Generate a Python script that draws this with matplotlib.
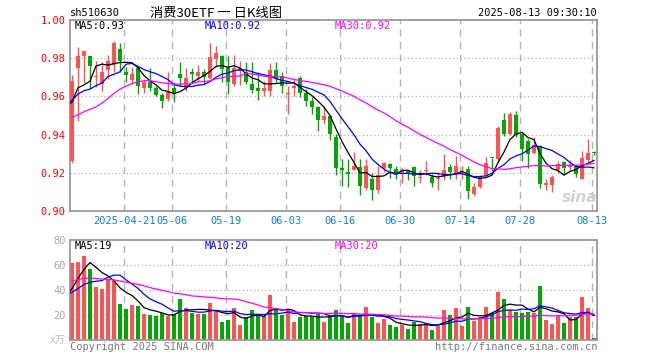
import numpy as np
import pandas as pd
import matplotlib
matplotlib.use('Agg')
import matplotlib.pyplot as plt
import matplotlib.transforms as mtransforms

plt.rcParams['font.family'] = ['DejaVu Sans Mono', 'Noto Sans CJK SC']

# trading days shown (2025-04-08 .. 2025-08-13, exchange holidays removed)
holidays = ['2025-05-01', '2025-05-02', '2025-05-05', '2025-06-02']
tick_dates = ['2025-04-21', '2025-05-06', '2025-05-19', '2025-06-03', '2025-06-16',
              '2025-06-30', '2025-07-14', '2025-07-28', '2025-08-13']

# daily OHLC
open_ = [0.926, 0.975, 0.981, 0.981, 0.970, 0.9666, 0.974, 0.9765, 0.985, 0.973,
         0.9687, 0.9747, 0.9645, 0.9677, 0.9645, 0.9607, 0.9586, 0.9642, 0.9719, 0.9642,
         0.9729, 0.9708, 0.9729, 0.9698, 0.9796, 0.9814, 0.9747, 0.9666, 0.9733, 0.9729,
         0.9665, 0.9642, 0.963, 0.963, 0.974, 0.9705, 0.961, 0.9645, 0.9695, 0.962,
         0.9577, 0.9544, 0.9477, 0.9498, 0.9389, 0.9224, 0.9203, 0.9214, 0.9232, 0.9123,
         0.9168, 0.9112, 0.9224, 0.9244, 0.9221, 0.9196, 0.9208, 0.9232, 0.9172, 0.9207,
         0.9179, 0.9165, 0.9179, 0.9232, 0.9195, 0.9205, 0.9221, 0.9091, 0.9126, 0.9186,
         0.928, 0.927, 0.9477, 0.9402, 0.9501, 0.9402, 0.9366, 0.9305, 0.9339, 0.9138,
         0.9138, 0.9214, 0.9256, 0.9232, 0.9235, 0.9168, 0.9266, 0.9305]
high = [0.971, 0.986, 0.984, 0.981, 0.9786, 0.978, 0.9817, 0.9888, 0.988, 0.9753,
        0.9753, 0.976, 0.969, 0.9747, 0.9653, 0.962, 0.9729, 0.9674, 0.9779, 0.9747,
        0.9747, 0.9765, 0.9744, 0.988, 0.9866, 0.9817, 0.9814, 0.9817, 0.9786, 0.9782,
        0.978, 0.9726, 0.9682, 0.9775, 0.9782, 0.9726, 0.9656, 0.969, 0.9708, 0.9638,
        0.9595, 0.955, 0.955, 0.9501, 0.9402, 0.927, 0.927, 0.9308, 0.927, 0.927,
        0.920, 0.9235, 0.9256, 0.9253, 0.9235, 0.9226, 0.9217, 0.9235, 0.9214, 0.9261,
        0.9196, 0.9203, 0.9296, 0.9244, 0.9287, 0.9235, 0.9235, 0.9147, 0.9186, 0.9284,
        0.928, 0.9445, 0.9512, 0.9519, 0.9524, 0.941, 0.9379, 0.9389, 0.9344, 0.9168,
        0.9186, 0.926, 0.926, 0.9265, 0.9245, 0.9312, 0.9379, 0.9314]
low = [0.925, 0.947, 0.967, 0.964, 0.9647, 0.963, 0.969, 0.9726, 0.9726, 0.9674,
       0.9665, 0.9612, 0.962, 0.963, 0.960, 0.9538, 0.9577, 0.9571, 0.9656, 0.963,
       0.9674, 0.9682, 0.9665, 0.969, 0.9753, 0.9674, 0.9612, 0.9656, 0.966, 0.9665,
       0.962, 0.9582, 0.9603, 0.9603, 0.9674, 0.962, 0.9507, 0.9603, 0.9595, 0.955,
       0.9507, 0.9419, 0.9454, 0.9372, 0.9186, 0.9133, 0.9126, 0.9214, 0.9086, 0.9108,
       0.9056, 0.9095, 0.9203, 0.9174, 0.9165, 0.9147, 0.916, 0.9133, 0.9144, 0.9191,
       0.9126, 0.9112, 0.9161, 0.9165, 0.9165, 0.9165, 0.9063, 0.9077, 0.912, 0.9179,
       0.9208, 0.9261, 0.9393, 0.9397, 0.9389, 0.9261, 0.9226, 0.9296, 0.9121, 0.9112,
       0.9098, 0.9198, 0.9196, 0.9214, 0.9179, 0.9165, 0.9256, 0.9291]
close = [0.968, 0.981, 0.984, 0.976, 0.9705, 0.9729, 0.9786, 0.988, 0.9786, 0.971,
         0.9719, 0.9656, 0.9677, 0.9645, 0.9607, 0.9577, 0.9624, 0.962, 0.9698, 0.9695,
         0.9719, 0.9729, 0.9703, 0.9807, 0.9828, 0.9744, 0.9677, 0.9747, 0.9747, 0.9677,
         0.9635, 0.963, 0.9642, 0.974, 0.969, 0.9653, 0.962, 0.9656, 0.962, 0.9577,
         0.9547, 0.9477, 0.9498, 0.9402, 0.9226, 0.9214, 0.9193, 0.9235, 0.9129, 0.9235,
         0.9112, 0.9191, 0.9253, 0.9224, 0.9186, 0.9208, 0.9196, 0.9182, 0.9179, 0.9214,
         0.9144, 0.9172, 0.9214, 0.9203, 0.9235, 0.9212, 0.9103, 0.9126, 0.9179, 0.9253,
         0.9277, 0.9432, 0.9402, 0.9507, 0.9396, 0.9323, 0.9296, 0.9344, 0.9143, 0.9147,
         0.9179, 0.9244, 0.9226, 0.924, 0.9196, 0.9279, 0.9305, 0.9303]
# volume in units of 10k
volume = [61.6, 62.4, 67.2, 56.8, 42.7, 40.8, 48.8, 47.5, 28.8, 24.8,
          28, 27.2, 20.8, 20, 19.2, 21.3, 19.2, 21, 32.8, 25.9,
          21.9, 20.8, 20.8, 29.9, 24, 14.4, 16, 25.6, 12, 18.4,
          24, 20, 19.2, 36, 24, 20, 24, 14.4, 18.4, 19.2,
          19.2, 20.8, 14.4, 19.2, 24, 19.2, 13.9, 21.9, 19.2, 26.7,
          18.1, 13.9, 16.5, 12, 10.7, 12, 9.1, 14.7, 12.8, 13.3,
          8, 11.2, 24, 20, 25.6, 11.2, 26.4, 15.5, 18.1, 26.4,
          21.9, 38.4, 32.8, 24, 22.5, 21.9, 22.7, 21.3, 43.2, 16,
          12.8, 19.2, 13.9, 18.1, 18.1, 34.1, 25.6, 1.6]

# estimated sessions before the window, only so the moving averages start where the chart does
prior_close = [0.940, 0.938, 0.935, 0.9335, 0.915, 0.905, 0.908, 0.911, 0.925, 0.93,
               0.94, 0.949, 0.965, 0.975, 0.9765, 0.973, 0.972, 0.968, 0.966, 0.967,
               0.947, 0.966, 0.968, 0.952, 0.96, 0.9435, 0.9765, 0.966, 0.931]
prior_volume = [40, 36, 48, 55, 52, 60, 58, 55, 54, 55,
                50, 58, 62, 55, 50, 52, 56, 48, 50, 51,
                30, 36, 38, 35, 36, 20.9, 31.2, 29.3, 62]

RED = '#ff5252'
GREEN = '#00a800'
GRID = '#b4b4b4'
FRAME = '#9a9a9a'

dates = pd.bdate_range('2025-04-08', '2025-08-13')
dates = dates[~dates.isin(pd.to_datetime(holidays))]
tick_pos = [dates.get_loc(pd.Timestamp(d)) for d in tick_dates]
tick_lbl = [tick_dates[0]] + [d[5:] for d in tick_dates[1:]]

o = np.array(open_)
h = np.array(high)
l = np.array(low)
c = np.array(close)
v = np.array(volume)
n = len(c)
x = np.arange(n)
cols = np.where(c >= o, RED, GREEN)

c_all = pd.Series(prior_close + close, index=np.arange(-len(prior_close), n))
v_all = pd.Series(prior_volume + volume, index=np.arange(-len(prior_volume), n))
ma_c = {k: c_all.rolling(k).mean() for k in (5, 10, 30)}
ma_v = {k: v_all.rolling(k).mean() for k in (5, 10, 30)}
ma_cols = {5: 'black', 10: '#0000ff', 30: '#ff00ff'}

fig = plt.figure(figsize=(6.6, 3.6), dpi=100)
W, H = 660, 360
ax = fig.add_axes([70 / W, 1 - 211 / H, 527 / W, 191 / H])
axv = fig.add_axes([70 / W, 1 - 340 / H, 527 / W, 100 / H])

for a in (ax, axv):
    a.set_xlim(-0.33, 87.5)
    for s in a.spines.values():
        s.set_color(FRAME)
        s.set_linewidth(1.3)
    a.set_xticks([])
    a.tick_params(axis='y', length=0, pad=3, labelsize=7.5)
    for p in tick_pos:
        a.axvline(p - 0.25, color=GRID, lw=1, ls=(0, (5, 4)), zorder=0)

# price panel
ax.set_ylim(0.90, 1.00)
price_ticks = [0.90, 0.92, 0.94, 0.96, 0.98, 1.00]
ax.set_yticks(price_ticks)
ax.set_yticklabels([f'{t:.2f}' for t in price_ticks], color='red')
for t in price_ticks[1:-1]:
    ax.axhline(t, color=GRID, lw=0.9, ls=(0, (1, 2)), zorder=0)

ax.vlines(x, l, h, colors=cols, lw=1, zorder=2)
ax.bar(x, np.maximum(np.abs(c - o), 0.0004), bottom=np.minimum(o, c),
       width=0.8, color=cols, linewidth=0, zorder=3)
for k in (5, 10, 30):
    m = ma_c[k].loc[-1:]
    ax.plot(m.index, m.values, color=ma_cols[k], lw=0.9, zorder=4)

# date labels under the price panel
trans = mtransforms.blended_transform_factory(ax.transData, ax.transAxes)
for p, s in zip(tick_pos, tick_lbl):
    ax.text(p - 0.25, -10 / 191, s, transform=trans, ha='center', va='center',
            color='#0a80d0', fontsize=7.5)

# volume panel
axv.set_ylim(0, 80)
vol_ticks = [20, 40, 60, 80]
axv.set_yticks(vol_ticks)
axv.set_yticklabels([str(t) for t in vol_ticks], color='#a8a8a8')
for t in vol_ticks[:-1]:
    axv.axhline(t, color=GRID, lw=0.9, ls=(0, (1, 2)), zorder=0)
axv.bar(x, v, width=0.8, color=cols, linewidth=0, zorder=2)
for k in (5, 10, 30):
    m = ma_v[k].loc[-1:]
    axv.plot(m.index, m.values, color=ma_cols[k], lw=0.9, zorder=4)

# header, legends and footer (pixel positions)
def px(xp, yp, s, **kw):
    fig.text(xp / W, 1 - yp / H, s, va='center', **kw)

px(70, 13, 'sh510630', fontsize=7.5, color='black')
px(150, 13, '消费30ETF 一 日K线图', fontsize=9.5, color='black',
   family=['Noto Sans CJK SC', 'DejaVu Sans'])
px(597, 13, '2025-08-13 09:30:10', fontsize=7.5, color='black', ha='right')

px(75, 26, f'MA5:{ma_c[5].iloc[-1]:.2f}', fontsize=7.5, color=ma_cols[5])
px(205, 26, f'MA10:{ma_c[10].iloc[-1]:.2f}', fontsize=7.5, color=ma_cols[10])
px(335, 26, f'MA30:{ma_c[30].iloc[-1]:.2f}', fontsize=7.5, color=ma_cols[30])

px(75, 246, f'MA5:{int(ma_v[5].iloc[-1])}', fontsize=7.5, color=ma_cols[5])
px(205, 246, f'MA10:{int(ma_v[10].iloc[-1])}', fontsize=7.5, color=ma_cols[10])
px(335, 246, f'MA30:{int(ma_v[30].iloc[-1])}', fontsize=7.5, color=ma_cols[30])

# faint watermark in the price panel corner
px(580, 197, 'sina', fontsize=11, color='#d2d2d2', fontweight='bold', style='italic',
   family='DejaVu Sans', ha='center', zorder=1)

px(65, 340, 'x万', fontsize=7, color='#b8b8b8', ha='right',
   family=['DejaVu Sans Mono', 'Noto Sans CJK SC'])
px(70, 347, 'Copyright 2025 SINA.COM', fontsize=7.5, color='#7a7a7a')
px(597, 347, 'http://finance.sina.com.cn', fontsize=7.5, color='#7a7a7a', ha='right')

fig.savefig('out.png', dpi=100)
